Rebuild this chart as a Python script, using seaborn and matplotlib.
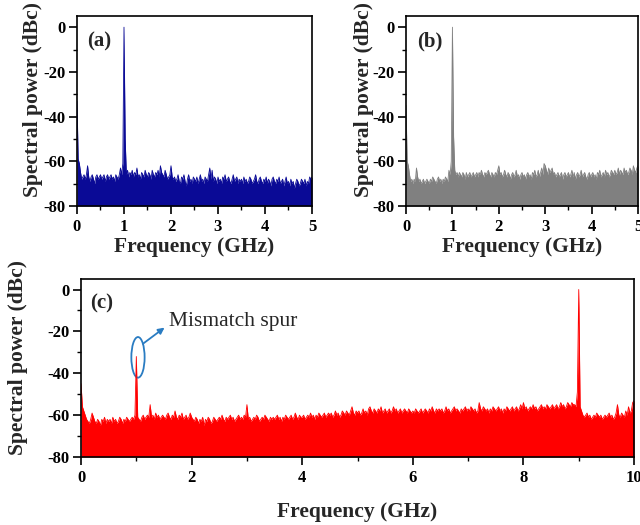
import numpy as np
import pandas as pd
import matplotlib.pyplot as plt
from matplotlib.patches import Ellipse
from matplotlib.ticker import MultipleLocator
import seaborn as sns

# frequency grids (GHz), 25 MHz spacing
freq_ab = np.linspace(0, 5, 201)
freq_c = np.linspace(0, 10, 401)

# spectral power (dBc), one row per 0.5 GHz
level_a = [
    -33, -59, -61, -65, -68, -67, -66, -68, -66, -62, -67, -69, -67, -66, -68, -70, -67, -66, -68, -67,
    -66, -68, -67, -66, -69, -67, -66, -68, -67, -66, -68, -67, -69, -66, -67, -68, -66, -63, -66, -61,
    0, -50, -66, -64, -67, -65, -66, -64, -67, -65, -66, -63, -67, -66, -68, -65, -66, -67, -64, -66,
    -67, -65, -66, -68, -64, -66, -67, -65, -66, -64, -67, -62, -65, -66, -67, -64, -66, -68, -67, -66,
    -62, -67, -68, -67, -69, -68, -66, -69, -70, -67, -68, -66, -69, -71, -68, -66, -69, -68, -70, -67,
    -68, -69, -67, -70, -68, -66, -69, -68, -70, -67, -68, -69, -66, -63, -68, -64, -69, -67, -68, -70,
    -67, -69, -68, -70, -67, -68, -66, -69, -68, -67, -69, -70, -68, -66, -69, -68, -67, -70, -68, -69,
    -68, -70, -67, -69, -68, -70, -69, -67, -68, -70, -69, -68, -66, -69, -70, -68, -67, -69, -70, -68,
    -69, -67, -70, -68, -69, -71, -68, -67, -69, -70, -68, -69, -67, -70, -69, -68, -71, -69, -67, -70,
    -69, -71, -68, -70, -69, -72, -70, -68, -69, -71, -70, -68, -69, -70, -68, -71, -69, -70, -67, -68,
    -67,
]

# panel (b)
level_b = [
    -35, -60, -62, -66, -69, -68, -70, -68, -69, -63, -67, -69, -68, -70, -69, -68, -70, -69, -68, -69,
    -70, -68, -69, -67, -68, -69, -70, -68, -67, -69, -68, -70, -68, -69, -67, -68, -69, -64, -66, -60,
    0, -49, -64, -66, -65, -67, -65, -66, -67, -65, -66, -68, -65, -67, -66, -65, -67, -66, -65, -67,
    -66, -65, -67, -65, -66, -64, -66, -67, -65, -66, -65, -64, -66, -67, -65, -66, -67, -65, -66, -64,
    -62, -66, -65, -67, -66, -64, -66, -67, -65, -66, -68, -66, -65, -67, -66, -64, -67, -66, -68, -66,
    -65, -67, -66, -68, -66, -65, -67, -66, -68, -65, -66, -64, -67, -66, -64, -67, -65, -63, -66, -61,
    -62, -64, -66, -63, -65, -64, -63, -66, -65, -67, -66, -65, -67, -66, -65, -68, -66, -65, -67, -66,
    -65, -67, -66, -64, -67, -65, -68, -66, -65, -67, -66, -64, -67, -66, -65, -67, -68, -66, -65, -67,
    -66, -65, -67, -66, -68, -65, -66, -64, -67, -66, -65, -67, -64, -66, -65, -67, -66, -64, -65, -66,
    -64, -66, -65, -63, -66, -64, -65, -66, -63, -65, -64, -66, -65, -63, -64, -66, -62, -64, -65, -63,
    -62,
]

# panel (c), 0-10 GHz
level_c = [
    -45, -56, -58, -60, -62, -63, -64, -62, -59, -61, -63, -64, -62, -63, -65, -62, -63, -61, -64, -62,
    -63, -62, -64, -61, -63, -62, -64, -63, -61, -62, -64, -62, -63, -61, -62, -63, -62, -61, -62, -60,
    -32, -61, -62, -63, -61, -60, -62, -61, -60, -61, -55, -61, -60, -62, -59, -61, -60, -62, -61, -60,
    -61, -62, -60, -59, -61, -62, -60, -61, -58, -61, -62, -60, -61, -59, -62, -61, -60, -62, -61, -59,
    -61, -62, -63, -61, -62, -64, -62, -63, -61, -65, -62, -63, -61, -62, -64, -63, -61, -62, -63, -62,
    -61, -62, -60, -62, -63, -61, -62, -61, -60, -62, -61, -63, -62, -61, -60, -62, -61, -62, -60, -61,
    -55, -62, -61, -63, -62, -61, -62, -60, -61, -63, -62, -61, -62, -60, -61, -62, -63, -61, -62, -61,
    -62, -61, -60, -62, -61, -63, -61, -62, -60, -61, -62, -61, -60, -62, -61, -59, -61, -62, -60, -61,
    -61, -60, -62, -61, -60, -61, -59, -61, -60, -62, -60, -61, -59, -60, -61, -60, -59, -61, -60, -59,
    -60, -59, -61, -60, -58, -60, -59, -61, -60, -58, -59, -60, -58, -59, -60, -58, -56, -59, -60, -58,
    -59, -58, -60, -59, -57, -59, -58, -60, -57, -56, -58, -59, -57, -58, -59, -57, -58, -56, -59, -58,
    -57, -59, -58, -57, -59, -58, -56, -58, -57, -59, -58, -57, -59, -58, -57, -58, -59, -57, -58, -59,
    -58, -59, -57, -58, -59, -58, -57, -59, -58, -57, -58, -59, -57, -58, -56, -58, -59, -57, -58, -57,
    -58, -57, -59, -58, -56, -58, -57, -59, -58, -57, -56, -58, -57, -58, -59, -57, -58, -57, -56, -58,
    -57, -58, -56, -57, -58, -57, -59, -58, -54, -57, -58, -56, -57, -58, -57, -59, -57, -58, -56, -57,
    -58, -57, -56, -58, -57, -59, -57, -58, -56, -57, -58, -57, -56, -58, -57, -56, -58, -57, -55, -57,
    -54, -57, -56, -58, -57, -56, -57, -55, -57, -56, -58, -57, -56, -55, -57, -56, -57, -55, -56, -57,
    -56, -55, -57, -56, -55, -57, -56, -54, -56, -55, -57, -56, -54, -55, -56, -54, -55, -55, -56, -49,
    0, -56, -58, -60, -61, -60, -59, -61, -60, -62, -61, -60, -61, -59, -60, -61, -60, -62, -61, -60,
    -61, -60, -59, -61, -60, -62, -61, -59, -55, -60, -61, -59, -60, -61, -58, -60, -56, -59, -58, -54,
    -53,
]

assert len(level_a) == len(freq_ab) and len(level_b) == len(freq_ab)
assert len(level_c) == len(freq_c)

sns.set_theme(style="ticks")
plt.rcParams.update({
    'font.family': ['Liberation Serif', 'DejaVu Serif'],
    'font.weight': 'bold',
    'axes.labelweight': 'bold',
    'axes.unicode_minus': False,
    'axes.linewidth': 1.2,
    'xtick.major.size': 6, 'ytick.major.size': 6,
    'xtick.minor.size': 3, 'ytick.minor.size': 3,
    'xtick.major.width': 1.2, 'ytick.major.width': 1.2,
    'xtick.minor.width': 1.0, 'ytick.minor.width': 1.0,
    'xtick.color': 'black', 'ytick.color': 'black',
    'axes.edgecolor': 'black',
    'xtick.labelsize': 12, 'ytick.labelsize': 12,
    'xtick.major.pad': 3, 'ytick.major.pad': 2,
})

fig = plt.figure(figsize=(6.4, 5.25), dpi=100)
ax_a = fig.add_axes([0.1203, 0.6076, 0.3672, 0.3619])
ax_b = fig.add_axes([0.6344, 0.6076, 0.3625, 0.3619])
ax_c = fig.add_axes([0.1266, 0.1295, 0.8641, 0.3390])


def draw_panel(ax, freq, level, color, tag, tag_x, xmax, xmajor, label_x, xlabel_y):
    df = pd.DataFrame({'freq': freq, 'level': level})
    ax.fill_between(df['freq'], df['level'], -80, color=color, lw=0)
    sns.lineplot(data=df, x='freq', y='level', ax=ax, color=color, lw=0.6,
                 estimator=None, sort=True)
    ax.set_xlim(0, xmax)
    ax.set_ylim(-80, 5)
    ax.xaxis.set_major_locator(MultipleLocator(xmajor))
    ax.xaxis.set_minor_locator(MultipleLocator(xmajor / 2))
    ax.yaxis.set_major_locator(MultipleLocator(20))
    ax.yaxis.set_minor_locator(MultipleLocator(10))
    ax.tick_params(which='both', direction='out', top=False, right=False)
    ax.set_xlabel('Frequency (GHz)', fontsize=15.5)
    ax.set_ylabel('Spectral power (dBc)', fontsize=15.5)
    ax.xaxis.set_label_coords(0.5, xlabel_y)
    ax.yaxis.set_label_coords(label_x, 0.56)
    ax.text(tag_x, 0.865, tag, transform=ax.transAxes, fontsize=15,
            fontweight='bold', va='center', ha='left')
    for s in ax.spines.values():
        s.set_visible(True)
        s.set_color('black')


draw_panel(ax_a, freq_ab, level_a, '#0a0a96', '(a)', 0.043, 5, 1, -0.145, -0.163)
draw_panel(ax_b, freq_ab, level_b, '#808080', '(b)', 0.047, 5, 1, -0.138, -0.163)
draw_panel(ax_c, freq_c, level_c, '#ff0000', '(c)', 0.016, 10, 2, -0.096, -0.253)

# mismatch spur annotation
spur_blue = '#2a7cc2'
ax_c.add_patch(Ellipse((1.03, -32.4), 0.24, 19.4, fill=False, ec=spur_blue, lw=1.3))
ax_c.annotate('', xy=(1.51, -18.2), xytext=(1.12, -25.9),
              arrowprops=dict(arrowstyle='-|>', color=spur_blue, lw=1.3,
                              mutation_scale=9, shrinkA=0, shrinkB=0))
ax_c.text(1.59, -15.2, 'Mismatch spur', fontsize=15.5, fontweight='normal',
          va='center', ha='left')

fig.savefig('out.png', dpi=100)
